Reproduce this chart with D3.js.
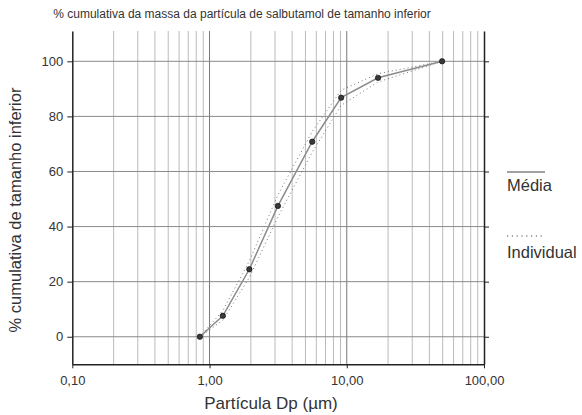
<!DOCTYPE html>
<html>
<head>
<meta charset="utf-8">
<script src="https://cdn.jsdelivr.net/npm/d3@7"></script>
<style>
  body { margin: 0; background: #fff; }
  svg text { font-family: "Liberation Sans", Arial, sans-serif; fill: #333; }
</style>
</head>
<body>
<svg id="chart" width="582" height="415"></svg>
<script>
// particle cut-off diameters (µm)
let dp = [0.85, 1.25, 1.95, 3.15, 5.6, 9.1, 16.9, 49.5];
// mean cumulative % undersize
let media = [0, 7.6, 24.5, 47.5, 70.8, 86.8, 94.0, 100];
// individual runs
let individual1 = [0, 9.5, 27.5, 51.5, 74.5, 89.5, 95.5, 100];
let individual2 = [0, 6.0, 21.5, 43.5, 67.0, 84.0, 92.5, 100];

let xMajor = [0.1, 1, 10, 100];
let yMajor = [0, 20, 40, 60, 80, 100];
let yMinor = [-10, 10, 30, 50, 70, 90, 110];

let title = "% cumulativa da massa da partícula de salbutamol de tamanho inferior";
let xTitle = "Partícula Dp (µm)";
let yTitle = "% cumulativa de tamanho inferior";

let svg = d3.select("#chart");

let x = d3.scaleLog().domain([0.1, 100]).range([72.3, 484]);
let y = d3.scaleLinear().domain([-10, 111]).range([364.3, 31]);

let xMinor = [];
[0.1, 1, 10].forEach(function (d) {
  for (let k = 2; k <= 9; k++) xMinor.push(+(d * k).toFixed(3));
});

let locale = d3.formatLocale({ decimal: ",", thousands: ".", grouping: [3], currency: ["", ""] });
let fmt = locale.format(".2f");

// vertical grid
svg.append("g")
  .selectAll("line")
  .data(xMinor.concat([1, 10]))
  .enter()
  .append("line")
  .attr("x1", function (d) { return x(d); })
  .attr("x2", function (d) { return x(d); })
  .attr("y1", y(111))
  .attr("y2", y(-10))
  .attr("stroke", function (d) { return (d == 1 || d == 10) ? "#777" : "#bbb"; })
  .attr("stroke-width", 1);

// horizontal grid
svg.append("g")
  .selectAll("line")
  .data(yMajor)
  .enter()
  .append("line")
  .attr("x1", x(0.1))
  .attr("x2", x(100))
  .attr("y1", function (d) { return y(d); })
  .attr("y2", function (d) { return y(d); })
  .attr("stroke", "#8a8a8a")
  .attr("stroke-width", 1);

// axes
let bottom = svg.append("g").attr("transform", `translate(0,${y(-10)})`);
bottom.call(d3.axisBottom(x).tickValues(xMinor).tickSize(3).tickFormat(""));
bottom.call(d3.axisBottom(x).tickValues(xMajor).tickSize(4).tickSizeOuter(0).tickFormat(fmt));

let left = svg.append("g").attr("transform", `translate(${x(0.1)},0)`);
left.call(d3.axisLeft(y).tickValues(yMinor).tickSize(4).tickFormat(""));
left.call(d3.axisLeft(y).tickValues(yMajor).tickSize(5).tickSizeOuter(0));

let right = svg.append("g").attr("transform", `translate(${x(100)},0)`);
right.call(d3.axisRight(y).tickValues(yMinor).tickSize(4).tickFormat(""));
right.call(d3.axisRight(y).tickValues(yMajor).tickSize(5).tickSizeOuter(0).tickFormat(""));

svg.selectAll(".domain").attr("stroke", "#222").attr("stroke-width", 1.5);
svg.selectAll(".tick line").attr("stroke", "#222");
svg.selectAll(".tick text").style("font-size", "13px").style("font-family", "'Liberation Sans', Arial, sans-serif").attr("fill", "#333");
bottom.selectAll(".tick text").attr("dy", "1.05em");
left.selectAll(".tick text").attr("x", -9);

// lines
let line = d3.line()
  .x(function (d) { return x(d[0]); })
  .y(function (d) { return y(d[1]); });

[individual1, individual2].forEach(function (s) {
  svg.append("path")
    .datum(d3.zip(dp, s))
    .attr("d", line)
    .attr("fill", "none")
    .attr("stroke", "#777")
    .attr("stroke-width", 1)
    .attr("stroke-dasharray", "1,3");
});

svg.append("path")
  .datum(d3.zip(dp, media))
  .attr("d", line)
  .attr("fill", "none")
  .attr("stroke", "#8c8c8c")
  .attr("stroke-width", 1.5);

svg.append("g")
  .selectAll("circle")
  .data(d3.zip(dp, media))
  .enter()
  .append("circle")
  .attr("cx", function (d) { return x(d[0]); })
  .attr("cy", function (d) { return y(d[1]); })
  .attr("r", 2.7)
  .attr("fill", "#3a3a3a")
  .attr("stroke", "#000")
  .attr("stroke-width", 0.6);

// titles
svg.append("text")
  .attr("x", 242)
  .attr("y", 18)
  .attr("text-anchor", "middle")
  .style("font-size", "12px")
  .text(title);

svg.append("text")
  .attr("x", 271)
  .attr("y", 409)
  .attr("text-anchor", "middle")
  .style("font-size", "17px")
  .text(xTitle);

svg.append("text")
  .attr("transform", "translate(21,210) rotate(-90)")
  .attr("text-anchor", "middle")
  .style("font-size", "16.5px")
  .text(yTitle);

// legend
svg.append("line")
  .attr("x1", 507).attr("x2", 545)
  .attr("y1", 172).attr("y2", 172)
  .attr("stroke", "#444").attr("stroke-width", 1);
svg.append("text").attr("x", 507).attr("y", 191).style("font-size", "16.5px").text("Média");

svg.append("line")
  .attr("x1", 507).attr("x2", 545)
  .attr("y1", 236).attr("y2", 236)
  .attr("stroke", "#444").attr("stroke-width", 1.2)
  .attr("stroke-dasharray", "1.2,3.6");
svg.append("text").attr("x", 507).attr("y", 258).style("font-size", "16.5px").text("Individual");
</script>
</body>
</html>
